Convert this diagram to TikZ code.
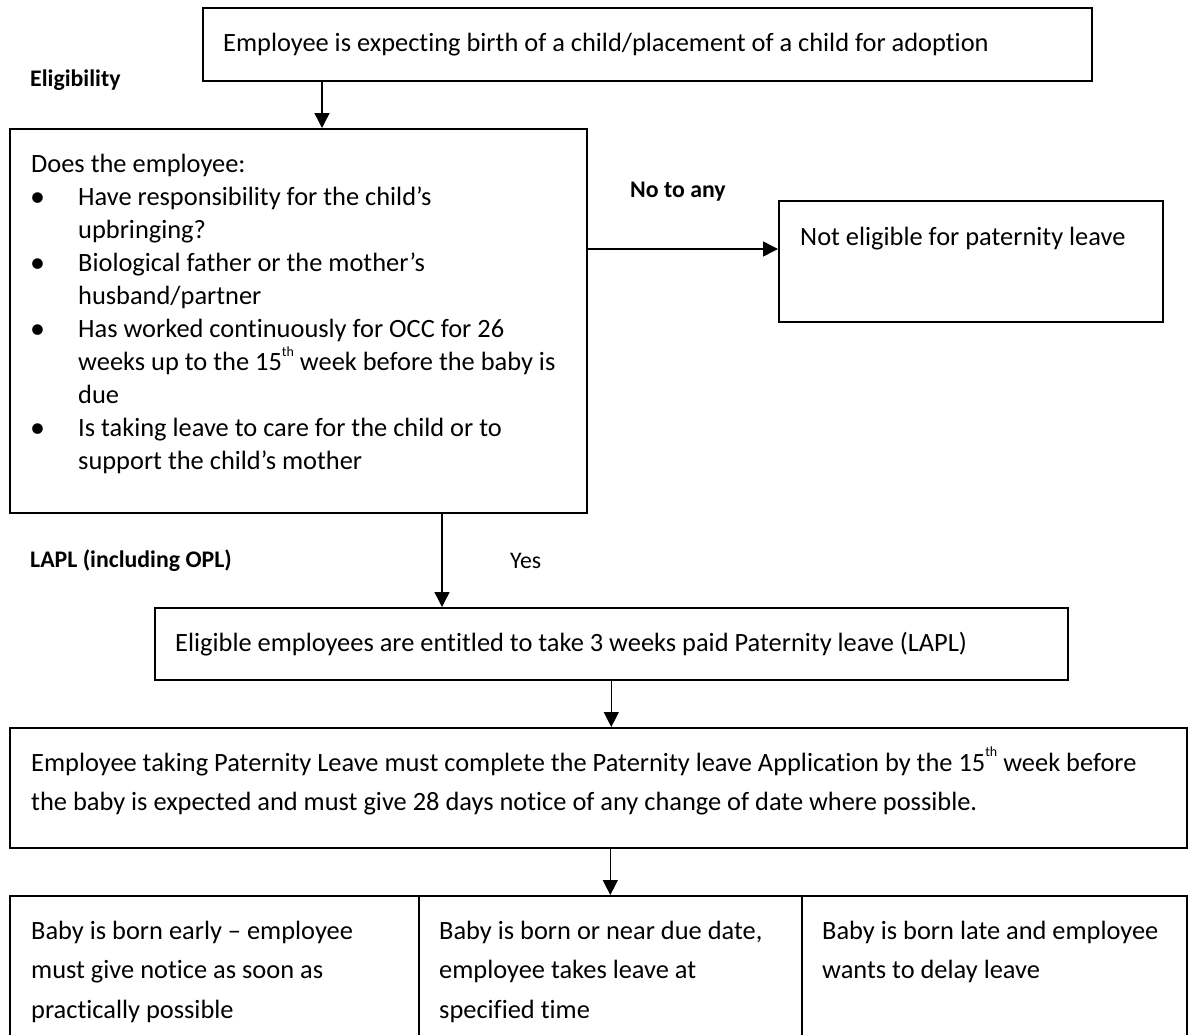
\documentclass[tikz,border=0pt]{standalone}
\usepackage{fontspec}
\setmainfont{Carlito}[Ligatures=NoCommon]
\usetikzlibrary{arrows.meta}
\newcommand{\supth}{\raisebox{0.55em}{\fontsize{14}{14}\selectfont th}}
\begin{document}
\begin{tikzpicture}[x=1pt,y=-1pt,
  box/.style={draw, line width=1.6pt, rectangle, inner sep=0pt, anchor=north west},
  txt/.style={anchor=base west, inner sep=0pt, font=\fontsize{26.4}{32}\selectfont},
  bul/.style={anchor=base west, inner sep=0pt, font=\fontsize{30}{32}\selectfont},
  lbl/.style={anchor=base west, inner sep=0pt, font=\fontsize{23.8}{29}\selectfont\bfseries},
  sml/.style={anchor=base west, inner sep=0pt, font=\fontsize{23.8}{29}\selectfont},
  arr/.style={line width=1.4pt, -{Triangle[length=15pt,width=15pt]}}]
\path[use as bounding box, fill=white] (0,0) rectangle (1188,1034);
\clip (0,0) rectangle (1188,1034);

% boxes
\node[box, minimum width=889pt, minimum height=73pt] (top) at (202,7) {};
\node[box, minimum width=577pt, minimum height=384pt] (elig) at (9,128) {};
\node[box, minimum width=384pt, minimum height=121pt] (noel) at (778,200) {};
\node[box, minimum width=913pt, minimum height=72pt] (ent) at (154,607) {};
\node[box, minimum width=1177pt, minimum height=120pt] (app) at (9,727) {};
\node[box, minimum width=409pt, minimum height=150pt] (b1) at (9,895) {};
\node[box, minimum width=383pt, minimum height=150pt] (b2) at (418,895) {};
\node[box, minimum width=385pt, minimum height=150pt] (b3) at (801,895) {};

% texts
\node[txt] (ttop) at (223,51) {Employee is expecting birth of a child/placement of a child for adoption};
\node[lbl] (leli) at (30,86) {Eligibility};
\node[txt] (e0) at (31,172) {Does the employee:};
\node[bul] (bu1) at (30,206) {\textbullet};
\node[bul] (bu2) at (30,272.2) {\textbullet};
\node[bul] (bu3) at (30,338.4) {\textbullet};
\node[bul] (bu4) at (30,437.7) {\textbullet};
\node[txt] (e1) at (78,205.1) {Have responsibility for the child’s};
\node[txt] (e2) at (78,238.2) {upbringing?};
\node[txt] (e3) at (78,271.3) {Biological father or the mother’s};
\node[txt] (e4) at (78,304.4) {husband/partner};
\node[txt] (e5) at (78,337.5) {Has worked continuously for OCC for 26};
\node[txt] (e6) at (78,370.6) {weeks up to the 15\supth{} week before the baby is};
\node[txt] (e7) at (78,403.7) {due};
\node[txt] (e8) at (78,436.8) {Is taking leave to care for the child or to};
\node[txt] (e9) at (78,469.9) {support the child’s mother};
\node[lbl] (lno) at (630,197) {No to any};
\node[txt] (tnoel) at (800,245) {Not eligible for paternity leave};
\node[lbl] (llapl) at (30,567) {LAPL (including OPL)};
\node[sml] (lyes) at (510,568) {Yes};
\node[txt] (tent) at (175,651) {Eligible employees are entitled to take 3 weeks paid Paternity leave (LAPL)};
\node[txt] (a1) at (31,771) {Employee taking Paternity Leave must complete the Paternity leave Application by the 15\supth{} week before};
\node[txt] (a2) at (31,810) {the baby is expected and must give 28 days notice of any change of date where possible.};
\node[txt] (c11) at (31,939) {Baby is born early – employee};
\node[txt] (c12) at (31,978.5) {must give notice as soon as};
\node[txt] (c13) at (31,1018) {practically possible};
\node[txt] (c21) at (439,939) {Baby is born or near due date,};
\node[txt] (c22) at (439,978.5) {employee takes leave at};
\node[txt] (c23) at (439,1018) {specified time};
\node[txt] (c31) at (822,939) {Baby is born late and employee};
\node[txt] (c32) at (822,978.5) {wants to delay leave};

% connectors
\coordinate (ax1) at (322,0);
\coordinate (ny) at (0,249);
\coordinate (ax2) at (442,0);
\draw[arr] (top.south -| ax1) -- (elig.north -| ax1);
\draw[arr] (elig.east |- ny) -- (noel.west |- ny);
\draw[arr] (elig.south -| ax2) -- (ent.north -| ax2);
\draw[arr] (ent.south) -- (ent.south |- app.north);
\draw[arr] (b2.north |- app.south) -- (b2.north);
\end{tikzpicture}
\end{document}
